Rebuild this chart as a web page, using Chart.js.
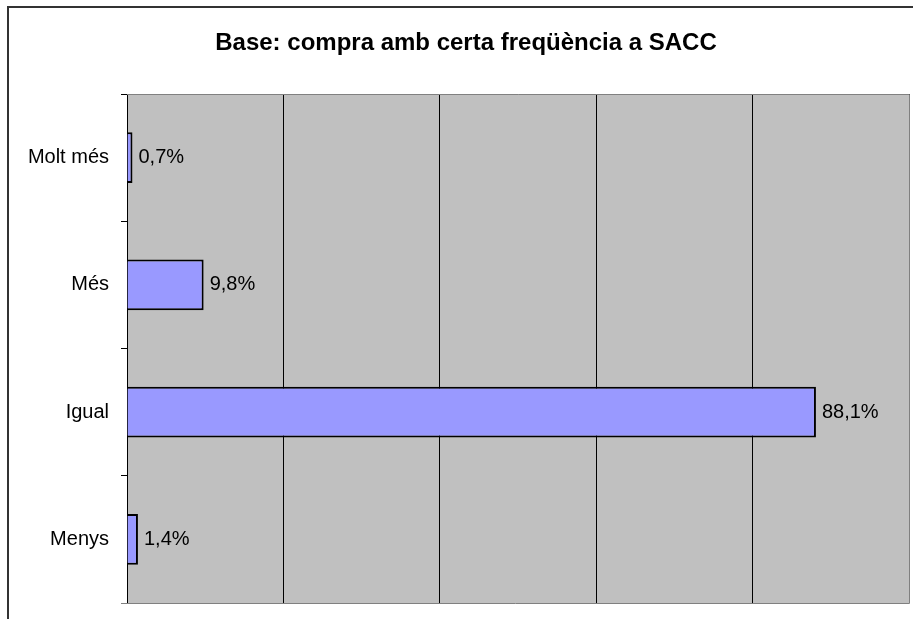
<!DOCTYPE html>
<html>
<head>
<meta charset="utf-8">
<script src="https://cdn.jsdelivr.net/npm/chart.js@4/dist/chart.umd.min.js"></script>
<style>
  html, body { margin: 0; padding: 0; background: #fff; }
  #wrap { width: 913px; height: 619px; }
</style>
</head>
<body>
<div id="wrap"><canvas id="c" width="913" height="619"></canvas></div>
<script>
const categories = ['Molt més', 'Més', 'Igual', 'Menys'];
const values = [0.7, 9.8, 88.1, 1.4];
const axisMax = 100;
const axisStep = 20;
const title = 'Base: compra amb certa freqüència a SACC';

const FONT = '"Liberation Sans", Arial, sans-serif';

// gray plot background, outer frame and the title (frame is wider than the view)
const backdrop = {
  id: 'backdrop',
  beforeDraw(chart) {
    const { ctx, chartArea: a } = chart;
    ctx.save();
    ctx.fillStyle = '#c0c0c0';
    ctx.fillRect(a.left, a.top, a.right - a.left, a.bottom - a.top);
    ctx.strokeStyle = '#333';
    ctx.lineWidth = 2;
    ctx.strokeRect(8, 7, chart.width + 10, chart.height + 10);
    ctx.font = 'bold 24px ' + FONT;
    ctx.fillStyle = '#000';
    ctx.textAlign = 'center';
    ctx.textBaseline = 'middle';
    ctx.fillText(title, 466, 43);
    ctx.restore();
  },
  afterDraw(chart) {
    const { ctx, chartArea: a } = chart;
    ctx.save();
    ctx.strokeStyle = '#808080';
    ctx.lineWidth = 1;
    ctx.beginPath();
    ctx.moveTo(a.left, a.top + 0.5);
    ctx.lineTo(a.right + 0.5, a.top + 0.5);
    ctx.lineTo(a.right + 0.5, a.bottom + 0.5);
    ctx.lineTo(a.left - 6, a.bottom + 0.5);
    ctx.stroke();
    ctx.restore();
  }
};

const barLabels = {
  id: 'barLabels',
  afterDatasetsDraw(chart) {
    const { ctx } = chart;
    const meta = chart.getDatasetMeta(0);
    ctx.save();
    ctx.font = '20px ' + FONT;
    ctx.fillStyle = '#000';
    ctx.textBaseline = 'middle';
    meta.data.forEach((bar, i) => {
      ctx.fillText(values[i].toFixed(1).replace('.', ',') + '%', bar.x + 6, bar.y);
    });
    ctx.restore();
  }
};

new Chart(document.getElementById('c'), {
  type: 'bar',
  data: {
    labels: categories,
    datasets: [{
      data: values,
      backgroundColor: '#9999ff',
      borderColor: '#000',
      borderWidth: 2,
      barPercentage: 0.8,
      categoryPercentage: 0.5
    }]
  },
  options: {
    indexAxis: 'y',
    responsive: false,
    animation: false,
    layout: { padding: { left: 0, right: 4, top: 94, bottom: 16 } },
    plugins: {
      legend: { display: false },
      tooltip: { enabled: false },
      title: { display: false }
    },
    scales: {
      x: {
        min: 0, max: axisMax,
        afterFit: s => { s.height = 0; },
        ticks: { display: false, stepSize: axisStep },
        grid: { color: '#000', drawTicks: false },
        border: { display: false }
      },
      y: {
        afterFit: s => { s.width = 127; s.paddingTop = 0; s.paddingBottom = 0; },
        ticks: { color: '#000', padding: 12, font: { family: FONT, size: 20 } },
        grid: { drawOnChartArea: false, drawTicks: true, tickLength: 6, color: '#000' },
        border: { color: '#000' }
      }
    }
  },
  plugins: [backdrop, barLabels]
});
</script>
</body>
</html>
